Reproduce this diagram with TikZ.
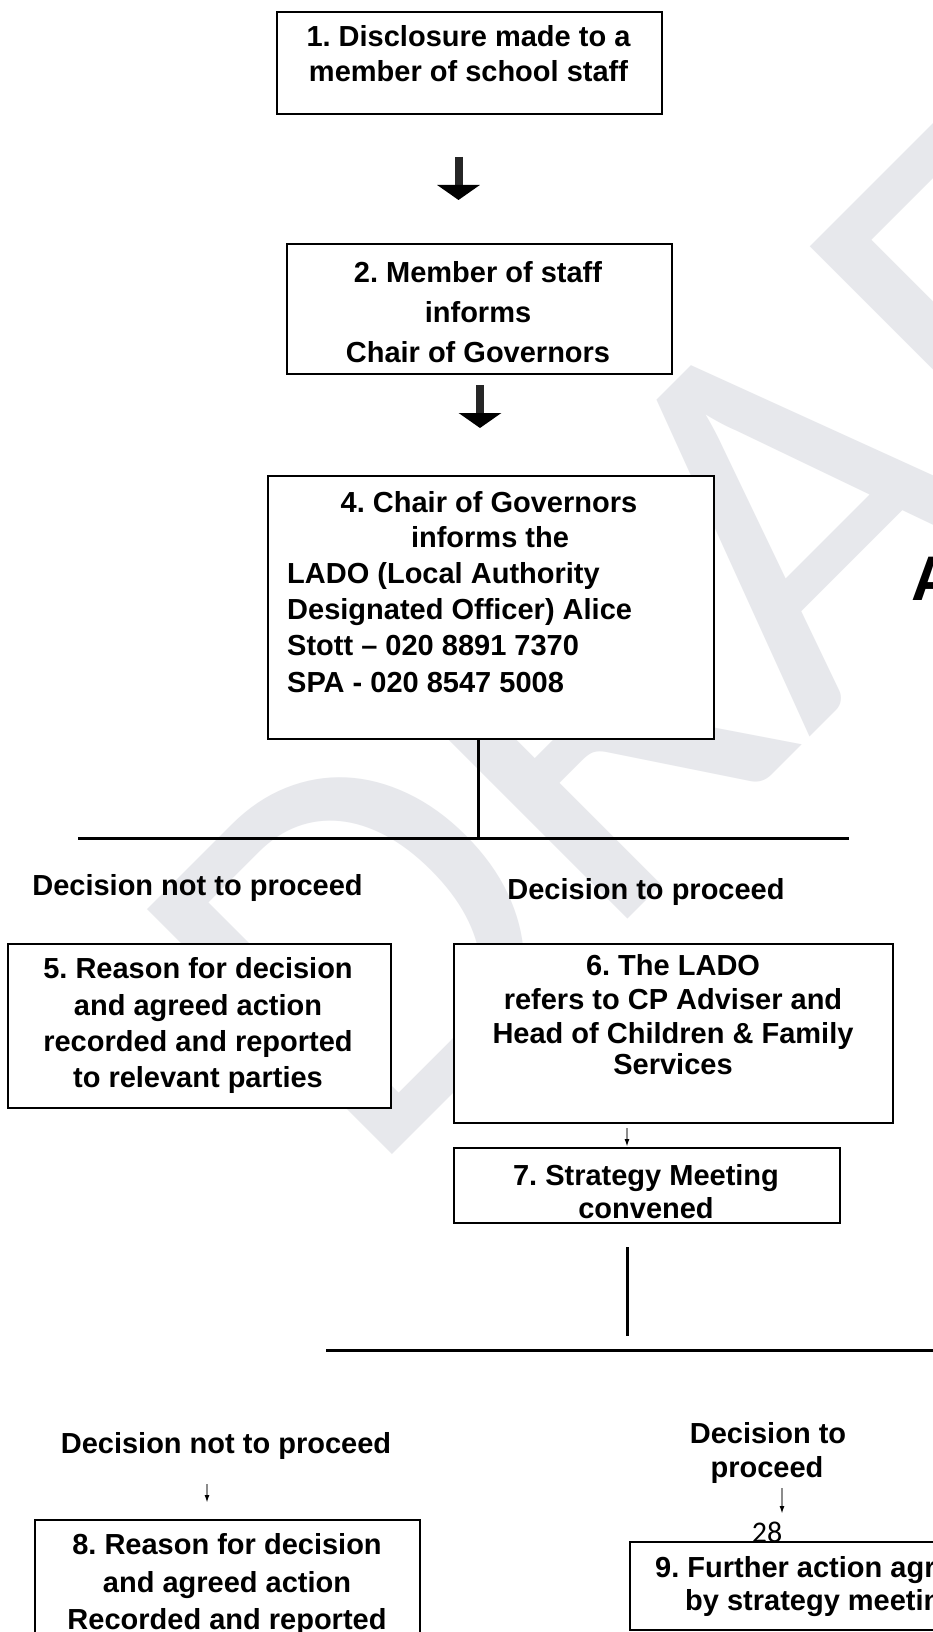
\documentclass[tikz,border=0pt]{standalone}
\usepackage{fontspec}
\setmainfont{Liberation Sans}
\newfontfamily\wmfont{Carlito}
\usetikzlibrary{arrows.meta}
\definecolor{wmgray}{RGB}{231,232,236}
\frenchspacing
\begin{document}
\begin{tikzpicture}[x=1pt,y=-1pt,
  box/.style={draw=black, line width=1.6pt, fill=white, rectangle, inner sep=0pt, anchor=north west},
  txt/.style={font=\bfseries\fontsize{29}{29}\selectfont, inner sep=0pt, anchor=base},
  txtl/.style={txt, anchor=base west},
  rule/.style={line width=3pt, black},
  bigarrow/.style={line width=8pt, black!85, -{Triangle[width=42pt,length=15pt,color=black]}},
  tinyarrow/.style={line width=2pt, black!45, -{Latex[length=8pt,width=5pt,color=black]}}
]
\useasboundingbox (0,0) rectangle (933,1632);
\clip (0,0) rectangle (933,1632);
\fill[white] (0,0) rectangle (933,1632);

% watermark
\node[rotate=45, anchor=base west, inner sep=0pt, text=wmgray,
      font=\wmfont\fontsize{540}{540}\selectfont] (wm) at (366,1181) {DRAFT};

% boxes
\node[box, minimum width=385pt, minimum height=102pt] (b1) at (276,11) {};
\node[box, minimum width=385pt, minimum height=130pt] (b2) at (286,243) {};
\node[box, minimum width=446pt, minimum height=263pt] (b4) at (267,475) {};
\node[box, minimum width=383pt, minimum height=164pt] (b5) at (7,943) {};
\node[box, minimum width=439pt, minimum height=179pt] (b6) at (453,943) {};
\node[box, minimum width=386pt, minimum height=75pt] (b7) at (453,1147) {};
\node[box, minimum width=385pt, minimum height=150pt] (b8) at (34,1519) {};

% box 1
\node[txt] (t1a) at (468.5,47) {1. Disclosure made to a};
\node[txt] (t1b) at (468.5,82) {member of school staff};
% box 2
\node[txt] (t2a) at (478,282) {2. Member of staff};
\node[txt] (t2b) at (478,322) {informs};
\node[txt] (t2c) at (478,362) {Chair of Governors};
% box 4
\node[txt] (t4a) at (489,512) {4. Chair of Governors};
\node[txt] (t4b) at (490,547) {informs the};
\node[txtl] (t4c) at (287,583) {LADO (Local Authority};
\node[txtl] (t4d) at (287,619) {Designated Officer) Alice};
\node[txtl] (t4e) at (287,655) {Stott – 020 8891 7370};
\node[txtl] (t4f) at (287,692) {SPA - 020 8547 5008};

% decisions (first level)
\node[txt] (d1) at (197.5,895) {Decision not to proceed};
\node[txt] (d2) at (646,899) {Decision to proceed};

% box 5
\node[txt] (t5a) at (198,978) {5. Reason for decision};
\node[txt] (t5b) at (198,1015) {and agreed action};
\node[txt] (t5c) at (198,1051) {recorded and reported};
\node[txt] (t5d) at (198,1087) {to relevant parties};
% box 6
\node[txt] (t6a) at (673,975) {6. The LADO};
\node[txt] (t6b) at (673,1009) {refers to CP Adviser and};
\node[txt] (t6c) at (673,1043) {Head of Children \& Family};
\node[txt] (t6d) at (673,1074) {Services};
% box 7
\node[txt] (t7a) at (646,1185) {7. Strategy Meeting};
\node[txt] (t7b) at (646,1218) {convened};

% decisions (second level)
\node[txt] (d3) at (226,1453) {Decision not to proceed};
\node[txt] (d4a) at (768,1443) {Decision to};
\node[txt] (d4b) at (767,1477) {proceed};

% box 8
\node[txt] (t8a) at (227,1554) {8. Reason for decision};
\node[txt] (t8b) at (227,1592) {and agreed action};
\node[txt] (t8c) at (227,1629) {Recorded and reported};

% page number and box 9
\node[inner sep=0pt, anchor=base, font=\wmfont\fontsize{30}{30}\selectfont] (pg) at (767,1542) {28};
\node[box, minimum width=340pt, minimum height=88pt] (b9) at (629,1541) {};
\node[txtl] (t9a) at (655,1577) {9. Further action agreed};
\node[txtl] (t9b) at (685,1610) {by strategy meeting};

% heading letter at right edge
\node[inner sep=0pt, anchor=base west, font=\bfseries\fontsize{63}{63}\selectfont] (bigA) at (911,600) {A};

% connectors
\coordinate (a1s) at (458.5,157); \coordinate (a1e) at (458.5,200);
\coordinate (a2s) at (480,385);   \coordinate (a2e) at (480,428);
\draw[bigarrow] (a1s) -- (a1e);
\draw[bigarrow] (a2s) -- (a2e);

\coordinate (h1L) at (78,838); \coordinate (h1R) at (849,838); \coordinate (h1M) at (478,838);
\draw[rule] (b4.south -| h1M) -- (h1M);
\draw[rule] (h1L) -- (h1R);

\coordinate (a3s) at (627,1128); \coordinate (a3e) at (627,1147);
\draw[tinyarrow] (a3s) -- (a3e);

\coordinate (v2s) at (627,1247); \coordinate (v2e) at (627,1336);
\draw[rule] (v2s) -- (v2e);
\coordinate (h2L) at (326,1350); \coordinate (h2R) at (940,1350);
\draw[rule] (h2L) -- (h2R);

\coordinate (a4s) at (207,1484); \coordinate (a4e) at (207,1503);
\draw[tinyarrow] (a4s) -- (a4e);
\coordinate (a5s) at (782,1488); \coordinate (a5e) at (782,1514);
\draw[tinyarrow] (a5s) -- (a5e);
\end{tikzpicture}
\end{document}
